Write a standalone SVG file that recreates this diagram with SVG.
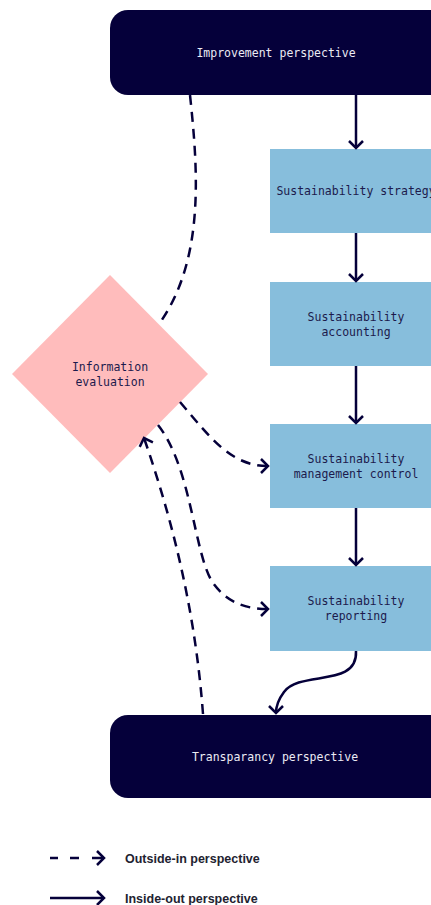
<svg xmlns="http://www.w3.org/2000/svg" width="431" height="905" viewBox="0 0 431 905">
  <style>
    .dark { fill: #05003a; }
    .step { fill: #87bedc; }
    .decision { fill: #ffbcbc; }
    .mono { font-family: "DejaVu Sans Mono", "Liberation Mono", monospace; font-size: 11.5px; text-anchor: middle; }
    .light { fill: #ecebf4; }
    .ink { fill: #1c1a4c; }
    .solid { fill: none; stroke: #05003a; stroke-width: 2.5; }
    .dashed { fill: none; stroke: #05003a; stroke-width: 2.5; stroke-dasharray: 10 7; }
    .legend { font-family: "Liberation Sans", Arial, sans-serif; font-size: 12.5px; font-weight: bold; fill: #222230; }
  </style>
  <defs>
    <marker id="chev" viewBox="-9 -9 12 18" markerWidth="12" markerHeight="18" refX="0" refY="0" orient="auto" markerUnits="userSpaceOnUse">
      <path d="M-7,-7 L0,0 L-7,7" fill="none" stroke="#05003a" stroke-width="2.5" stroke-dasharray="none" stroke-linejoin="miter"/>
    </marker>
  </defs>

  <!-- nodes -->
  <g id="improvement">
    <rect class="dark" x="110" y="10" width="340" height="85" rx="18"/>
    <text class="mono light" x="276" y="57">Improvement perspective</text>
  </g>
  <g id="strategy">
    <rect class="step" x="270" y="149" width="172" height="84"/>
    <text class="mono ink" x="356" y="195">Sustainability strategy</text>
  </g>
  <g id="accounting">
    <rect class="step" x="270" y="282" width="172" height="84"/>
    <text class="mono ink" x="356" y="321">Sustainability</text>
    <text class="mono ink" x="356" y="336">accounting</text>
  </g>
  <g id="management-control">
    <rect class="step" x="270" y="424" width="172" height="84"/>
    <text class="mono ink" x="356" y="463">Sustainability</text>
    <text class="mono ink" x="356" y="478">management control</text>
  </g>
  <g id="reporting">
    <rect class="step" x="270" y="566" width="172" height="85"/>
    <text class="mono ink" x="356" y="605">Sustainability</text>
    <text class="mono ink" x="356" y="620">reporting</text>
  </g>
  <g id="information-evaluation">
    <polygon class="decision" points="110,275 208,374 110,473 12,374"/>
    <text class="mono ink" x="110" y="371">Information</text>
    <text class="mono ink" x="110" y="386">evaluation</text>
  </g>
  <g id="transparency">
    <rect class="dark" x="110" y="715" width="340" height="83" rx="18"/>
    <text class="mono light" x="275" y="761">Transparancy perspective</text>
  </g>

  <!-- connectors -->
  <g id="connectors">
    <path class="solid" d="M356,95 V148" marker-end="url(#chev)"/>
    <path class="solid" d="M356,233 V281" marker-end="url(#chev)"/>
    <path class="solid" d="M356,366 V423" marker-end="url(#chev)"/>
    <path class="solid" d="M356,508 V565" marker-end="url(#chev)"/>
    <path class="solid" d="M356,651 C358,688 300,670 284,692 C278,700 276,706 276,713" marker-end="url(#chev)"/>

    <path class="dashed" d="M190,95 C198,170 205,260 159,324"/>
    <path class="dashed" d="M180,402 C212,440 232,466 268,466" marker-end="url(#chev)"/>
    <path class="dashed" d="M158,425 C192,468 194,555 213,583 C228,604 248,609 268,609" marker-end="url(#chev)"/>
    <path class="dashed" d="M203,714 C196,620 176,530 144,438" marker-end="url(#chev)"/>
  </g>

  <!-- legend -->
  <g id="legend">
    <path class="solid" d="M50,858 H58 M70,858 H79 M92,858 H104"/>
    <path d="M97,851 L104,858 L97,865" fill="none" stroke="#05003a" stroke-width="2.5"/>
    <text class="legend" x="125" y="862.5">Outside-in perspective</text>
    <path class="solid" d="M50,898 H104"/>
    <path d="M97,891 L104,898 L97,905" fill="none" stroke="#05003a" stroke-width="2.5"/>
    <text class="legend" x="125" y="902.5">Inside-out perspective</text>
  </g>
</svg>
